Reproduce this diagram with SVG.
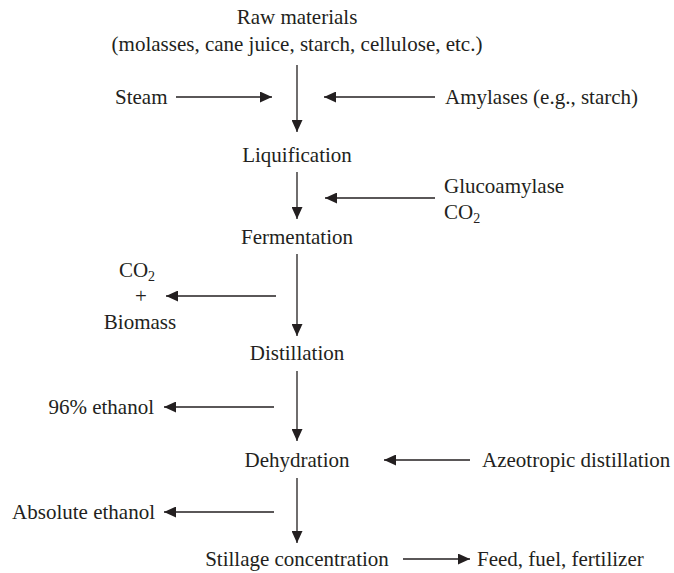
<svg xmlns="http://www.w3.org/2000/svg" width="674" height="573" viewBox="0 0 674 573">
<defs>
<marker id="ah" markerUnits="userSpaceOnUse" markerWidth="13" markerHeight="11" refX="12" refY="5.5" orient="auto">
<path d="M0,0 L12,5.5 L0,11 z" fill="#231f20"/>
</marker>
<style>
.t{font-family:'Liberation Serif','Times New Roman',Tinos,'DejaVu Serif',serif;font-size:21px;fill:#231f20}
.c{text-anchor:middle}
.e{text-anchor:end}
.sub{font-size:14px}
.cn line{stroke:#231f20;stroke-width:1.3;marker-end:url(#ah)}
</style>
</defs>
<rect width="674" height="573" fill="#fff"/>
<g class="t" font-family="'Liberation Serif', 'Times New Roman', serif">
<g id="raw"><text class="c" x="297" y="24">Raw materials</text><text class="c" x="297" y="51">(molasses, cane juice, starch, cellulose, etc.)</text></g>
<g id="steam"><text x="115" y="104">Steam</text></g>
<g id="amylases"><text x="445" y="104">Amylases (e.g., starch)</text></g>
<g id="liquification"><text class="c" x="297" y="162">Liquification</text></g>
<g id="glucoamylase"><text x="444" y="193">Glucoamylase</text><text x="444" y="219">CO<tspan class="sub" dy="4">2</tspan></text></g>
<g id="fermentation"><text class="c" x="297" y="244">Fermentation</text></g>
<g id="co2biomass"><text class="c" x="137" y="277">CO<tspan class="sub" dy="4">2</tspan></text><text class="c" x="141" y="303">+</text><text class="c" x="140" y="329">Biomass</text></g>
<g id="distillation"><text class="c" x="297" y="360">Distillation</text></g>
<g id="ethanol96"><text class="e" x="154" y="414">96% ethanol</text></g>
<g id="dehydration"><text class="c" x="297" y="467">Dehydration</text></g>
<g id="azeotropic"><text x="482" y="467">Azeotropic distillation</text></g>
<g id="absolute"><text class="e" x="155" y="519">Absolute ethanol</text></g>
<g id="stillage"><text class="c" x="297" y="566">Stillage concentration</text></g>
<g id="feed"><text x="477" y="566">Feed, fuel, fertilizer</text></g>
</g>
<g id="connectors" class="cn">
<line x1="297" y1="65" x2="297" y2="132"/>
<line x1="176" y1="97" x2="272" y2="97"/>
<line x1="435" y1="97" x2="324" y2="97"/>
<line x1="297" y1="172" x2="297" y2="219"/>
<line x1="435" y1="198" x2="325" y2="198"/>
<line x1="297" y1="254" x2="297" y2="336"/>
<line x1="276" y1="296" x2="166" y2="296"/>
<line x1="297" y1="371" x2="297" y2="441"/>
<line x1="274" y1="407" x2="164" y2="407"/>
<line x1="470" y1="460" x2="384" y2="460"/>
<line x1="297" y1="478" x2="297" y2="543"/>
<line x1="274" y1="512" x2="164" y2="512"/>
<line x1="403" y1="559" x2="470" y2="559"/>
</g>
</svg>
